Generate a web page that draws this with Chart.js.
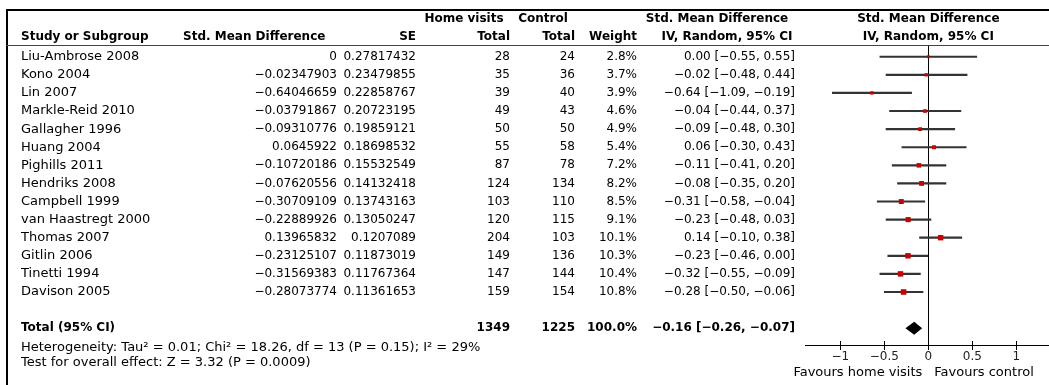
<!DOCTYPE html>
<html>
<head>
<meta charset="utf-8">
<script src="https://cdn.jsdelivr.net/npm/chart.js@4.4.1/dist/chart.umd.min.js"></script>
<style>
	html, body { margin: 0; padding: 0; background: #fff; }
</style>
</head>
<body>
<canvas id="forest-plot" width="1049" height="385"></canvas>
<script>
'use strict';

const studies = ['Liu-Ambrose 2008', 'Kono 2004', 'Lin 2007', 'Markle-Reid 2010', 'Gallagher 1996', 'Huang 2004', 'Pighills 2011',
	'Hendriks 2008', 'Campbell 1999', 'van Haastregt 2000', 'Thomas 2007', 'Gitlin 2006', 'Tinetti 1994', 'Davison 2005'];
const smd = [0, -0.02347903, -0.64046659, -0.03791867, -0.09310776, 0.0645922, -0.10720186,
	-0.07620556, -0.30709109, -0.22889926, 0.13965832, -0.23125107, -0.31569383, -0.28073774];
const se = [0.27817432, 0.23479855, 0.22858767, 0.20723195, 0.19859121, 0.18698532, 0.15532549,
	0.14132418, 0.13743163, 0.13050247, 0.1207089, 0.11873019, 0.11767364, 0.11361653];
const homeTotal = [28, 35, 39, 49, 50, 55, 87, 124, 103, 120, 204, 149, 147, 159];
const controlTotal = [24, 36, 40, 43, 50, 58, 78, 134, 110, 115, 103, 136, 144, 154];
const weight = [2.8, 3.7, 3.9, 4.6, 4.9, 5.4, 7.2, 8.2, 8.5, 9.1, 10.1, 10.3, 10.4, 10.8];
const ciEst = [0.00, -0.02, -0.64, -0.04, -0.09, 0.06, -0.11, -0.08, -0.31, -0.23, 0.14, -0.23, -0.32, -0.28];
const ciLow = [-0.55, -0.48, -1.09, -0.44, -0.48, -0.30, -0.41, -0.35, -0.58, -0.48, -0.10, -0.46, -0.55, -0.50];
const ciHigh = [0.55, 0.44, -0.19, 0.37, 0.30, 0.43, 0.20, 0.20, -0.04, 0.03, 0.38, 0.00, -0.09, -0.06];

const totalHome = 1349;
const totalControl = 1225;
const totalWeight = 100.0;
const totalEst = -0.16;
const totalLow = -0.26;
const totalHigh = -0.07;
const heterogeneityText = 'Heterogeneity: Tau\u00b2 = 0.01; Chi\u00b2 = 18.26, df = 13 (P = 0.15); I\u00b2 = 29%';
const overallText = 'Test for overall effect: Z = 3.32 (P = 0.0009)';
const axisTicks = [-1, -0.5, 0, 0.5, 1];

const FONT = '"DejaVu Sans", sans-serif';
const TOTAL_ROW = 15;

const minus = s => String(s).replace(/-/g, '\u2212');
const fmt2 = v => minus(v.toFixed(2));

//table text, frame, diamond and crossing tick marks
const tablePlugin = {
	id: 'forestTable',
	afterDraw(chart){
		const ctx = chart.ctx;
		const x = chart.scales.x;
		const y = chart.scales.y;
		const area = chart.chartArea;
		const zero = x.getPixelForValue(0);

		//style: 'b' bold header, 'n' numbers, otherwise plain text
		function text(str, px, row, align, style){
			ctx.font = style === 'b' ? 'bold 12px ' + FONT : style === 'n' ? '12px ' + FONT : '13px ' + FONT;
			ctx.textAlign = align;
			ctx.fillText(str, px, y.getPixelForValue(row));
		}

		ctx.save();
		ctx.fillStyle = '#000';
		ctx.textBaseline = 'middle';

		//headers
		text('Home visits', 464, -2.08, 'center', 'b');
		text('Control', 543, -2.08, 'center', 'b');
		text('Std. Mean Difference', 717, -2.08, 'center', 'b');
		text('Std. Mean Difference', zero, -2.08, 'center', 'b');
		text('Study or Subgroup', 21, -1.12, 'left', 'b');
		text('Std. Mean Difference', 183, -1.12, 'left', 'b');
		text('SE', 416, -1.12, 'right', 'b');
		text('Total', 510, -1.12, 'right', 'b');
		text('Total', 575, -1.12, 'right', 'b');
		text('Weight', 637, -1.12, 'right', 'b');
		text('IV, Random, 95% CI', 727, -1.12, 'center', 'b');
		text('IV, Random, 95% CI', zero, -1.12, 'center', 'b');

		studies.forEach((name, i) => {
			text(name, 21, i, 'left');
			text(minus(smd[i]), 337, i, 'right', 'n');
			text(String(se[i]), 416, i, 'right', 'n');
			text(String(homeTotal[i]), 510, i, 'right', 'n');
			text(String(controlTotal[i]), 575, i, 'right', 'n');
			text(weight[i].toFixed(1) + '%', 637, i, 'right', 'n');
			text(`${fmt2(ciEst[i])} [${fmt2(ciLow[i])}, ${fmt2(ciHigh[i])}]`, 795, i, 'right', 'n');
		});

		text('Total (95% CI)', 21, TOTAL_ROW, 'left', 'b');
		text(String(totalHome), 510, TOTAL_ROW, 'right', 'b');
		text(String(totalControl), 575, TOTAL_ROW, 'right', 'b');
		text(totalWeight.toFixed(1) + '%', 637, TOTAL_ROW, 'right', 'b');
		text(`${fmt2(totalEst)} [${fmt2(totalLow)}, ${fmt2(totalHigh)}]`, 795, TOTAL_ROW, 'right', 'b');
		text(heterogeneityText, 21, 16.05, 'left');
		text(overallText, 21, 16.93, 'left');

		//favours labels
		ctx.font = '13px ' + FONT;
		ctx.textAlign = 'right';
		ctx.fillText('Favours home visits', zero - 6, area.bottom + 28);
		ctx.textAlign = 'left';
		ctx.fillText('Favours control', zero + 6, area.bottom + 28);

		//summary diamond
		const dy = y.getPixelForValue(TOTAL_ROW);
		ctx.beginPath();
		ctx.moveTo(x.getPixelForValue(totalLow), dy);
		ctx.lineTo(x.getPixelForValue(totalEst), dy - 6.5);
		ctx.lineTo(x.getPixelForValue(totalHigh), dy);
		ctx.lineTo(x.getPixelForValue(totalEst), dy + 6.5);
		ctx.closePath();
		ctx.fill();

		//tick marks crossing the axis
		ctx.strokeStyle = '#000';
		ctx.lineWidth = 1;
		axisTicks.forEach(v => {
			const px = Math.round(x.getPixelForValue(v)) + 0.5;
			ctx.beginPath();
			ctx.moveTo(px, area.bottom - 4);
			ctx.lineTo(px, area.bottom + 5);
			ctx.stroke();
		});

		//frame
		ctx.fillRect(6, 9, 1043, 2);
		ctx.fillRect(6, 9, 2, 376);
		ctx.fillStyle = '#444';
		ctx.fillRect(6, Math.round(area.top), 1043, 1);
		ctx.restore();
	}
};

Chart.defaults.font.family = FONT;

new Chart(document.getElementById('forest-plot'), {
	type: 'scatter',
	data: {
		datasets: [{
			type: 'scatter',
			data: smd.map((v, i) => ({x: v, y: i})),
			pointStyle: 'rect',
			pointRadius: c => 1.2 * Math.sqrt(weight[c.dataIndex]),
			backgroundColor: '#cc0000',
			borderWidth: 0
		}, {
			type: 'bar',
			indexAxis: 'y',
			data: studies.map((s, i) => ({y: i, x: [ciLow[i], ciHigh[i]]})),
			backgroundColor: '#333',
			barThickness: 1.5,
			borderWidth: 0,
			borderSkipped: false
		}]
	},
	options: {
		responsive: false,
		animation: false,
		layout: {
			autoPadding: false,
			padding: {left: 805, top: 45, right: 0, bottom: 0}
		},
		plugins: {
			legend: {display: false},
			tooltip: {enabled: false}
		},
		scales: {
			x: {
				type: 'linear',
				min: -1.4,
				max: 1.37,
				offset: false,
				afterFit: scale => { scale.height = 40; },
				afterBuildTicks: scale => { scale.ticks = axisTicks.map(v => ({value: v})); },
				border: {display: true, color: '#000', width: 1},
				grid: {
					offset: false,
					drawTicks: false,
					color: c => (c.tick && c.tick.value === 0) ? '#000' : 'rgba(0,0,0,0)'
				},
				ticks: {
					callback: v => minus(v),
					color: '#222',
					font: {size: 12},
					padding: 5,
					maxRotation: 0,
					autoSkip: false
				}
			},
			y: {
				type: 'linear',
				reverse: true,
				min: -0.65,
				max: 15.93,
				offset: false,
				display: false
			}
		}
	},
	plugins: [tablePlugin]
});
</script>
</body>
</html>
